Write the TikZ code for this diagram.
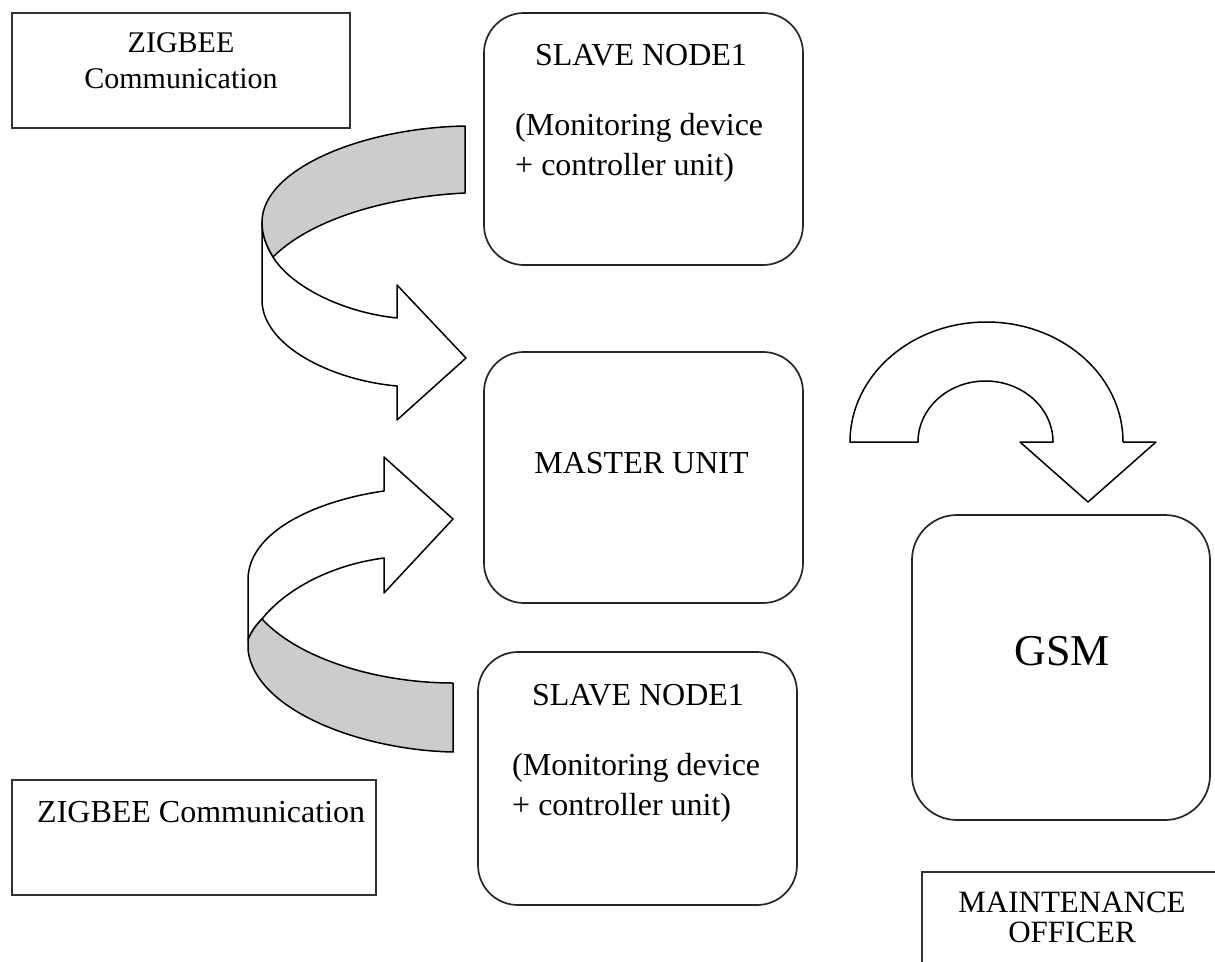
\documentclass[tikz,border=0pt]{standalone}
\usepackage{fontspec}
\setmainfont{Liberation Serif}
\begin{document}
\begin{tikzpicture}[x=1pt,y=-1pt,
  sqbox/.style={draw=black!80,line width=2pt,rectangle,inner sep=0pt},
  rbox/.style={draw=black!85,line width=1.7pt,rectangle,rounded corners=40pt,inner sep=0pt},
  lbl/.style={inner sep=0pt,anchor=base,font=\fontsize{32}{38}\selectfont},
  lbll/.style={lbl,anchor=base west},
  ribbon/.style={draw=black,line width=1.5pt,line join=round,fill=white},
  band/.style={draw=black,line width=1.5pt,line join=round,fill=black!20}]
\clip (0,0) rectangle (1215,961);
\fill[white] (0,0) rectangle (1215,961);

% boxes
\node[sqbox,minimum width=338pt,minimum height=115pt] (zt) at (181,70.5) {};
\node[rbox,minimum width=319pt,minimum height=252pt] (st) at (643.5,139) {};
\node[rbox,minimum width=319pt,minimum height=251pt] (mu) at (643.5,477.5) {};
\node[rbox,minimum width=319pt,minimum height=253pt] (sb) at (637.5,778.5) {};
\node[sqbox,minimum width=364pt,minimum height=115pt] (zb) at (194,837.5) {};
\node[rbox,rounded corners=45pt,minimum width=298pt,minimum height=305pt] (gsm) at (1061,667.5) {};
\node[sqbox,minimum width=308pt,minimum height=118pt] (mo) at (1076,931) {};

% texts
\node[lbl,font=\fontsize{30}{36}\selectfont] (zt1) at (181,52) {ZIGBEE};
\node[lbl,font=\fontsize{30}{36}\selectfont] (zt2) at (181,88) {Communication};
\node[lbl] (st1) at (641,65) {SLAVE NODE1};
\node[lbll] (st2) at (515,135) {(Monitoring device};
\node[lbll] (st3) at (515,175) {+ controller unit)};
\node[lbl] (mu1) at (641.5,473) {MASTER UNIT};
\node[lbl] (sb1) at (638,705) {SLAVE NODE1};
\node[lbll] (sb2) at (512,775) {(Monitoring device};
\node[lbll] (sb3) at (512,815) {+ controller unit)};
\node[lbll] (zb1) at (37,822) {ZIGBEE Communication};
\node[lbl,font=\fontsize{44}{50}\selectfont] (gsm1) at (1062,665) {GSM};
\node[lbl,font=\fontsize{31}{37}\selectfont] (mo1) at (1072,912) {MAINTENANCE};
\node[lbl,font=\fontsize{31}{37}\selectfont] (mo2) at (1072,942) {OFFICER};

% top-left curved arrow
\draw[ribbon] (262,222) -- (262,300) .. controls (262,345) and (330,380) .. (397,386)
  -- (397,420) -- (466,358) -- (397,285) -- (397,318)
  .. controls (340,312) and (290,285) .. (273,257)
  .. controls (266,245) and (262,235) .. (262,222) -- cycle;
\draw[band] (465,126) -- (465,193) .. controls (385,197) and (310,220) .. (273,257)
  .. controls (266,245) and (262,235) .. (262,222)
  .. controls (262,170) and (360,128) .. (465,126) -- cycle;

% bottom-left curved arrow
\draw[ribbon] (384,491) .. controls (320,500) and (248,530) .. (248,580) -- (248,640)
  .. controls (251,632) and (256,625) .. (262,619)
  .. controls (285,590) and (330,565) .. (384,558)
  -- (384,593) -- (453,519) -- (384,457) -- cycle;
\draw[band] (262,619) .. controls (300,660) and (380,683) .. (453,683) -- (453,752)
  .. controls (360,750) and (255,710) .. (248,650) -- (248,640)
  .. controls (251,632) and (256,625) .. (262,619) -- cycle;

% right curved arrow
\draw[ribbon] (850,442) .. controls (850,375.7) and (911.1,322) .. (986.5,322)
  .. controls (1061.9,322) and (1123,375.7) .. (1123,442)
  -- (1156,442) -- (1088,502) -- (1020,442) -- (1053,442)
  .. controls (1053,408.3) and (1022.8,381) .. (985.5,381)
  .. controls (948.2,381) and (918,408.3) .. (918,442) -- cycle;
\end{tikzpicture}
\end{document}
